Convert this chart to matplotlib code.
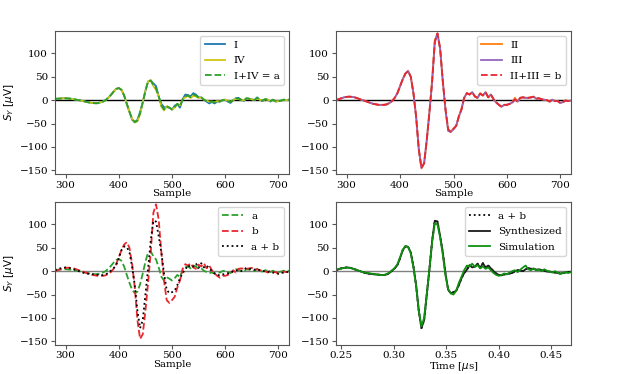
import numpy as np
import matplotlib
matplotlib.use("Agg")
import matplotlib.pyplot as plt

plt.rcParams['font.family'] = ['DejaVu Serif']
plt.rcParams['font.size'] = 7
plt.rcParams['axes.edgecolor'] = '#555555'
plt.rcParams['xtick.color'] = '#555555'
plt.rcParams['ytick.color'] = '#555555'
plt.rcParams['xtick.labelcolor'] = 'black'
plt.rcParams['ytick.labelcolor'] = 'black'

samples = np.arange(280, 721, 5)

a = [3, 3, 3.5, 4, 4, 3.5, 3, 2, 1, 0,
     -1, -2.5, -4, -5, -6, -6.5, -6.5, -5, -3, 0,
     5, 11, 18, 24, 26, 22, 10, -8, -25, -40,
     -47, -44, -28, -5, 20, 40, 42, 32, 25, 8,
     -12, -20, -13, -16, -20, -15, -8, -13, 2, 8,
     10, 6, 12, 10, 5, 6, 1, -2, -4, -3,
     -5, -2, -3, 0, 1, -2, -4, 0, 4, 3,
     1, -1, 4, 3, 2, 0, 5, 1, -1, 2,
     1, -2, 1, -3, -2, -1, 1, 0, 1]
sig_I = [3, 3, 3.5, 4, 4, 3.5, 3, 2, 1, 0,
         -1, -2.5, -4, -5, -6, -6.5, -6.5, -5, -3, 0,
         5, 11, 18, 24, 26, 22, 10, -8, -25, -42,
         -47, -42, -25, -5, 20, 40, 42, 36, 30, 8,
         -8, -15, -15, -16, -20, -12, -8, -16, 2, 12,
         11, 8, 15, 12, 6, 6, 1, -3, -7, -4,
         -7, -3, -3, 0, 1, -3, -6, 0, 4, 5,
         1, -2, 4, 3, 2, 0, 6, 1, -2, 2,
         1, -3, 1, -3, -2, -1, 1, 0, 1]
sig_IV = [3, 3, 3.5, 4, 4, 3.5, 3, 2, 1, 0,
          -1, -2.5, -4, -5, -6, -6.5, -6.5, -5, -3, 0,
          5, 11, 18, 24, 26, 22, 10, -8, -25, -40,
          -48, -45, -30, -5, 20, 40, 43, 30, 22, 8,
          -14, -22, -13, -16, -20, -16, -8, -11, 2, 6,
          9, 5, 9, 8, 5, 6, 1, -1, -3, -3,
          -4, -2, -3, 0, 1, -1, -3, 0, 3, 2,
          1, -1, 4, 3, 2, 0, 4, 1, -1, 2,
          1, -2, 1, -3, -2, -1, 1, 0, 1]

b = [0, 2, 4, 6, 7, 7.5, 7, 6, 4, 2,
     0, -2, -4, -6, -8, -9, -10, -10, -10, -9,
     -6, -2, 5, 15, 30, 45, 57, 62, 50, 15,
     -35, -105, -145, -135, -85, -25, 40, 125, 143, 110,
     40, -20, -62, -68, -62, -55, -35, -20, 5, 15,
     12, 17, 8, 5, 14, 10, 17, 6, 12, 2,
     -5, -10, -14, -10, -10, -8, -5, 2, -3, 5,
     6, 5, 5, 6, 7, 3, 4, 2, 1, 0,
     -3, 1, -2, -2, -6, -4, -1, -2, -1]
sig_II = [0, 2, 4, 6, 7, 7.5, 7, 6, 4, 2,
          0, -2, -4, -6, -8, -9, -10, -10, -10, -9,
          -6, -2, 5, 15, 30, 45, 57, 63, 50, 15,
          -35, -105, -146, -135, -85, -25, 45, 128, 143, 110,
          40, -20, -64, -68, -60, -55, -35, -18, 5, 15,
          12, 17, 8, 5, 15, 10, 17, 6, 12, 2,
          -5, -10, -14, -10, -10, -8, -5, 5, -3, 5,
          6, 5, 5, 6, 8, 3, 4, 2, 1, 0,
          -3, 1, -2, -2, -6, -4, 0, -2, -1]
sig_III = [0, 2, 4, 6, 7, 7.5, 7, 6, 4, 2,
           0, -2, -4, -6, -8, -9, -10, -10, -10, -9,
           -6, -2, 5, 15, 30, 45, 57, 62, 50, 15,
           -35, -105, -145, -135, -85, -25, 38, 124, 142, 110,
           40, -20, -66, -68, -62, -55, -35, -20, 5, 15,
           12, 17, 8, 5, 14, 10, 17, 6, 12, 2,
           -5, -10, -14, -10, -10, -8, -5, 1, -3, 5,
           6, 5, 5, 6, 7, 3, 4, 2, 1, 0,
           -3, 1, -2, -2, -6, -4, -1, -2, -1]

ab = [2, 4, 6, 7, 8, 7.5, 6, 4, 2, 0,
      -2, -4, -5, -6, -6.5, -7, -7.5, -8, -8.5, -7,
      -4, 1, 6, 13, 28, 45, 53, 52, 40, 10,
      -30, -85, -122, -105, -50, 5, 65, 108, 106, 75,
      40, -5, -40, -47, -45, -42, -30, -15, -4, 3,
      13, 8, 10, 16, 7, 17, 8, 12, 6, 0,
      -5, -8, -9, -7, -6, -5, -4, 0, 2, 1,
      0, 4, 7, 5, 5, 3, 4, 2, 1, -1,
      -1, -2, -3, -4, -5, -4, -3, -2, -1]
synthesized = list(ab)
simulation = [3, 5, 6, 7, 7.5, 7, 6, 4, 2, 0,
              -2, -3, -4, -5, -6, -7, -8, -8.5, -8, -6,
              -3, 2, 7, 15, 30, 46, 54, 52, 38, 8,
              -32, -85, -118, -100, -48, 5, 62, 102, 100, 72,
              35, -10, -38, -48, -50, -42, -25, -12, 2, 12,
              10, 16, 9, 13, 6, 10, 5, 8, 2, -4,
              -8, -10, -8, -5, -7, -3, 0, 2, -2, 3,
              8, 12, 4, 2, 6, 2, 3, 0, 4, 1,
              -1, -3, 0, -3, -6, -4, -2, -4, -2]

# sample -> time conversion (µs)
t0, dt = 0.245, 0.224 / 440
time_us = t0 + (samples - 280) * dt

yticks = [-150, -100, -50, 0, 50, 100]

fig = plt.figure(figsize=(6.28, 3.74), dpi=100)
W, H = 628, 374
def add_ax(l, r, t, btm):
    return fig.add_axes([l / W, 1 - btm / H, (r - l) / W, (btm - t) / H])

ax1 = add_ax(55, 289, 31, 174)
ax2 = add_ax(336, 571, 31, 174)
ax3 = add_ax(55, 289, 202, 345)
ax4 = add_ax(336, 571, 202, 345)

lw = 1.3
ax1.plot(samples, sig_I, color='#1f77b4', lw=lw, label='I')
ax1.plot(samples, sig_IV, color='#cfc614', lw=lw, label='IV')
ax1.plot(samples, a, color='#2ca02c', lw=lw, ls='--', label='I+IV = a')
ax1.axhline(0, color='black', lw=1, zorder=0)

ax2.plot(samples, sig_II, color='#ff7f0e', lw=lw, label='II')
ax2.plot(samples, sig_III, color='#9467bd', lw=lw, label='III')
ax2.plot(samples, b, color='#e8282e', lw=lw, ls='--', label='II+III = b')
ax2.axhline(0, color='black', lw=1, zorder=0)

ax3.plot(samples, a, color='#2ca02c', lw=lw, ls='--', label='a')
ax3.plot(samples, b, color='#e8282e', lw=lw, ls='--', label='b')
ax3.plot(samples, ab, color='black', lw=lw, ls=':', label='a + b')
ax3.axhline(0, color='gray', lw=1, zorder=0)

ax4.plot(time_us, ab, color='black', lw=lw, ls=':', label='a + b')
ax4.plot(time_us, synthesized, color='#1a1a1a', lw=lw, label='Synthesized')
ax4.plot(time_us, simulation, color='#109010', lw=lw, label='Simulation')
ax4.axhline(0, color='gray', lw=1, zorder=0)

for ax in (ax1, ax2, ax3):
    ax.set_xlim(280, 720)
    ax.set_xticks([300, 400, 500, 600, 700])
ax4.set_xlim(0.245, 0.469)
ax4.set_xticks([0.25, 0.30, 0.35, 0.40, 0.45])
ax4.set_xticklabels(['0.25', '0.30', '0.35', '0.40', '0.45'])

for ax in (ax1, ax2, ax3, ax4):
    ax.set_ylim(-158, 148)
    ax.set_yticks(yticks)
    ax.tick_params(length=3, width=0.8, labelsize=7.5, pad=2)
    ax.legend(loc='upper right', fontsize=7.5, labelspacing=0.6)
for ax in (ax3, ax4):
    ax.tick_params(axis='x', pad=1.5)

ax1.set_xlabel('Sample', fontsize=7.5)
ax2.set_xlabel('Sample', fontsize=7.5)
ax3.set_xlabel('Sample', fontsize=7.3)
ax4.set_xlabel(r'Time [$\mu$s]', fontsize=7.3)
for ax in (ax1, ax2):
    ax.xaxis.set_label_coords(0.5, -0.105)
for ax in (ax3, ax4):
    ax.xaxis.set_label_coords(0.5, -0.105)
ax1.set_ylabel(r'$S_Y$ [$\mu$V]', family='DejaVu Sans', fontsize=7.5)
ax3.set_ylabel(r'$S_Y$ [$\mu$V]', family='DejaVu Sans', fontsize=7.5)
ax1.yaxis.set_label_coords(-0.165, 0.5)
ax3.yaxis.set_label_coords(-0.165, 0.5)

fig.savefig('out.png', dpi=100)
